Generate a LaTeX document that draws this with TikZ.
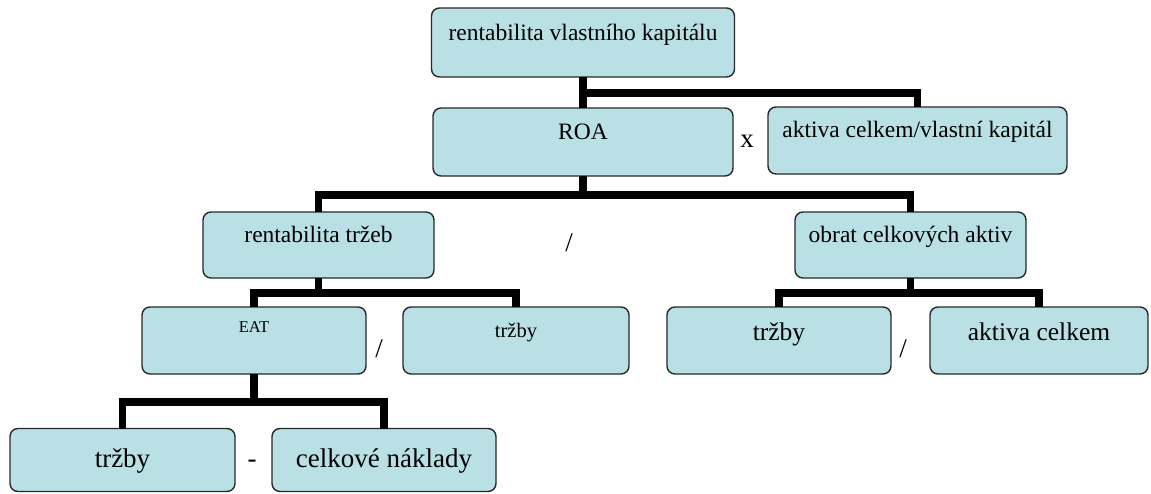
\documentclass[tikz,border=0pt]{standalone}
\usepackage{fontspec}
\setmainfont{Liberation Serif}
\definecolor{boxfill}{RGB}{185,224,228}
\definecolor{boxline}{RGB}{40,40,40}
\newcommand\fA{\fontsize{23.5pt}{28pt}\selectfont}
\newcommand\fB{\fontsize{25.5pt}{30pt}\selectfont}
\newcommand\fC{\fontsize{27pt}{32pt}\selectfont}
\newcommand\fD{\fontsize{20.5pt}{24pt}\selectfont}
\newcommand\fE{\fontsize{16.5pt}{20pt}\selectfont}
\newcommand\fOp{\fontsize{27pt}{32pt}\selectfont}
\tikzset{
  box/.style={draw=boxline, fill=boxfill, line width=1.4pt, rounded corners=8pt, inner sep=0pt, outer sep=0pt},
  lbl/.style={anchor=base, inner sep=0pt, text=black},
  conn/.style={line width=7.2pt, draw=black, line join=miter},
  opsym/.style={inner sep=0pt, anchor=center, text=black, font=\fOp},
}
\begin{document}
\begin{tikzpicture}[x=1pt,y=-1pt]
\useasboundingbox (0,0) rectangle (1151,493);
% boxes
\node[box, minimum width=303pt, minimum height=69pt] (top) at (583,42.5) {};
\node[box, minimum width=300pt, minimum height=68pt] (roa) at (583,142) {};
\node[box, minimum width=299pt, minimum height=67pt] (akt) at (917.5,140.5) {};
\node[box, minimum width=231pt, minimum height=66pt] (rt) at (318.5,245) {};
\node[box, minimum width=231pt, minimum height=66pt] (obrat) at (910.5,245) {};
\node[box, minimum width=224pt, minimum height=67pt] (eat) at (254,340.5) {};
\node[box, minimum width=226pt, minimum height=67pt] (trzA) at (516,340.5) {};
\node[box, minimum width=224pt, minimum height=67pt] (trzB) at (779,340.5) {};
\node[box, minimum width=218pt, minimum height=67pt] (akc) at (1039,340.5) {};
\node[box, minimum width=225pt, minimum height=63pt] (trzC) at (122.5,460) {};
\node[box, minimum width=224pt, minimum height=63pt] (nak) at (384,460) {};
% junctions
\coordinate (j1) at (583,93);
\coordinate (j2) at (583,195);
\coordinate (j3) at (318.5,293);
\coordinate (j4) at (910.5,293);
\coordinate (j5) at (254,402);
% connectors
\draw[conn] (top.south) -- (roa.north);
\draw[conn] (j1) -| (akt.north);
\draw[conn] (roa.south) -- (j2);
\draw[conn] (rt.north) |- (j2) -| (obrat.north);
\draw[conn] (rt.south) -- (j3);
\draw[conn] (eat.north) |- (j3) -| (trzA.north);
\draw[conn] (obrat.south) -- (j4);
\draw[conn] (trzB.north) |- (j4) -| (akc.north);
\draw[conn] (eat.south) -- (j5);
\draw[conn] (trzC.north) |- (j5) -| (nak.north);
% labels
\node[lbl, font=\fA] (ttop) at (583,40) {rentabilita vlastního kapitálu};
\node[lbl, font=\fA] (troa) at (583,139) {ROA};
\node[lbl, font=\fA] (takt) at (917.5,137) {aktiva celkem/vlastní kapitál};
\node[lbl, font=\fA] (trt) at (318.5,242) {rentabilita tržeb};
\node[lbl, font=\fA] (tobrat) at (910.5,242) {obrat celkových aktiv};
\node[lbl, font=\fE] (teat) at (254,332) {EAT};
\node[lbl, font=\fD] (ttrzA) at (516,337) {tržby};
\node[lbl, font=\fB] (ttrzB) at (779,340) {tržby};
\node[lbl, font=\fB] (takc) at (1039,340) {aktiva celkem};
\node[lbl, font=\fC] (ttrzC) at (122.5,467) {tržby};
\node[lbl, font=\fC] (tnak) at (384,467) {celkové náklady};
% operators
\node[lbl, font=\fOp] (opx) at (747,147) {x};
\node[opsym] (op1) at (569,243) {/};
\node[opsym] (op2) at (379,349) {/};
\node[opsym] (op3) at (903,349) {/};
\node[lbl, font=\fOp] (op4) at (252,467) {-};
\end{tikzpicture}
\end{document}
